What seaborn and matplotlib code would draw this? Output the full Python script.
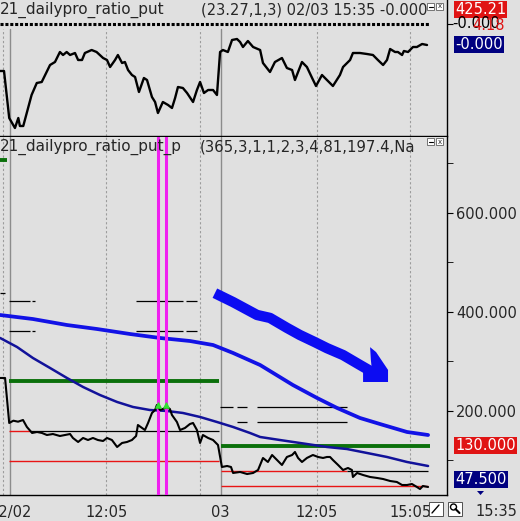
import matplotlib
matplotlib.use('Agg')
import matplotlib.pyplot as plt
import seaborn as sns
from matplotlib.patches import Polygon, Rectangle

# x = 5-minute bar number (bar 0 = 02/02 09:00, bar 81 = 02/03 09:00)
ratio_bar = [-3.8, -2.3, -0.3, 1.9, 3.2, 3.8, 5.1, 8.3, 10.3, 12.2, 15.4, 17.3, 19.2, 20.4, 21.8,
             23.1, 25.0, 26.2, 27.7, 28.8, 31.4, 33.3, 35.8, 37.3, 38.5, 40.4, 41.5, 43.1, 44.2,
             45.4, 46.9, 48.1, 49.6, 51.5, 52.7, 54.6, 55.8, 56.9, 58.8, 60.8, 62.3, 63.5, 64.6,
             66.5, 68.1, 70.4, 71.9, 73.1, 74.6, 76.2, 78.1, 79.6, 80.8, 81.9, 83.8, 85.4, 87.3,
             88.5, 89.6, 91.5, 93.5, 96.2, 97.3, 100.0, 101.9, 104.6, 106.5, 108.5, 109.6, 112.3,
             114.2, 116.2, 117.7, 120.0, 121.9, 124.2, 126.9, 128.1, 130.8, 131.9, 134.6, 137.3,
             139.6, 141.5, 143.5, 145.0, 146.2, 148.1, 149.2, 150.8, 151.5, 153.1, 155.0, 156.5,
             158.5, 160.4]
ratio_val = [65, 65, 18, 8, 18, 10, 10, 41, 53, 54, 71, 74, 84, 81, 84,
             81, 83, 76, 76, 83, 86, 84, 78, 76, 69, 76, 81, 73, 74,
             66, 61, 59, 44, 58, 56, 39, 34, 23, 34, 31, 28, 38, 49,
             48, 43, 34, 46, 54, 43, 46, 46, 41, 84, 86, 84, 96, 97,
             94, 89, 95, 89, 86, 73, 64, 74, 78, 68, 66, 56, 74,
             69, 58, 50, 61, 56, 50, 61, 69, 76, 83, 83, 82,
             81, 76, 71, 76, 87, 84, 84, 81, 85, 84, 89, 89,
             92, 91]
ratio_zero = 112

price_bar = [-3.8, -1.9, -0.3, 1.3, 3.1, 5.0, 6.5, 8.5, 10.4, 12.3, 14.2, 16.5, 19.2, 23.1, 24.2,
             26.2, 28.1, 30.0, 31.9, 33.8, 35.8, 37.3, 39.2, 41.2, 43.1, 45.0, 46.9, 48.5, 49.2,
             50.8, 51.9, 53.1, 54.6, 55.8, 56.5, 57.7, 58.8, 60.4, 61.5, 62.3, 64.2, 65.4, 67.3,
             69.2, 70.4, 71.9, 73.1, 74.2, 76.2, 78.1, 80.0, 81.5, 83.5, 85.0, 85.8, 88.5, 91.2,
             93.5, 95.4, 97.3, 99.2, 100.8, 102.7, 104.6, 106.5, 108.5, 109.6, 110.8, 112.3,
             114.2, 116.5, 118.5, 120.4, 121.9, 123.1, 124.2, 126.2, 128.1, 130.0, 131.5, 131.9,
             133.5, 135.8, 138.5, 141.2, 143.5, 146.2, 148.8, 150.8, 152.7, 154.6, 156.5, 157.7,
             158.8, 160.8]
price_val = [266.7, 266.7, 175.8, 180.4, 178.4, 181.8, 167.7, 155.6, 157.6, 155.6, 151.5, 153.5,
             149.5, 153.5, 145.5, 137.4, 145.5, 141.4, 145.5, 141.4, 139.4, 145.5, 141.4, 127.3,
             135.4, 137.4, 141.4, 149.5, 171.7, 165.7, 161.6, 175.8, 196.0, 202.0, 212.1, 202.0,
             204.0, 208.1, 204.0, 191.9, 177.8, 161.6, 165.7, 173.7, 175.8, 161.6, 135.4, 151.5,
             145.5, 141.4, 131.3, 86.9, 88.9, 86.9, 74.8, 76.8, 72.7, 74.8, 80.8, 105.1, 97.0,
             111.1, 101.0, 90.9, 107.1, 111.1, 117.2, 105.1, 97.0, 105.1, 111.1, 107.1, 105.1,
             107.1, 107.1, 101.0, 90.9, 80.8, 84.9, 80.8, 66.7, 74.8, 70.7, 66.7, 64.7, 62.6,
             58.6, 56.6, 50.5, 50.5, 52.5, 46.5, 42.4, 48.5, 46.5]

ma_upper_bar = [-3.8, 8.8, 21.9, 33.5, 46.2, 57.7, 69.2, 78.1, 85.8, 96.2, 108.8, 118.1, 125.8,
                134.6, 142.3, 152.7, 160.8]
ma_upper_val = [393.9, 385.8, 373.7, 365.6, 355.5, 347.5, 341.4, 333.3, 317.2, 292.9, 252.5,
                226.3, 206.1, 185.9, 173.7, 157.6, 151.5]
ma_lower_bar = [-3.8, 2.7, 8.8, 15.4, 21.9, 28.1, 34.6, 41.2, 47.3, 53.8, 60.4, 66.5, 73.1, 79.6,
                85.8, 92.3, 96.2, 103.8, 111.5, 121.9, 129.6, 137.3, 145.0, 152.7, 160.8]
ma_lower_val = [347.5, 329.3, 307.1, 286.9, 266.7, 248.5, 232.3, 218.2, 208.1, 202.0, 200.0,
                196.0, 187.9, 177.8, 167.7, 155.6, 147.5, 141.4, 135.4, 127.3, 123.2, 115.2,
                107.1, 97.0, 88.9]

green_level = [707.0, 260.6, 130.0]
green_start = [-3.8, -0.4, 81.0]
green_end = [-1.2, 80.4, 161.5]

red_level = [159.6, 99.0, 78.8, 47.5]
red_start = [-0.4, -0.4, 81.0, 81.0]
red_end = [7.7, 80.4, 129.6, 160.8]

black_level = [438.0, 422.0, 422.0, 422.0, 422.0, 361.6, 361.6, 361.6, 361.6,
               159.6, 208.1, 208.1, 208.1, 177.8, 177.8, 78.8]
black_start = [-3.8, -0.4, 8.5, 48.5, 67.7, -0.4, 8.5, 48.5, 67.7,
               7.7, 80.8, 87.3, 95.0, 87.3, 95.0, 129.6]
black_end = [-1.9, 7.7, 9.6, 66.5, 71.9, 7.7, 9.6, 66.5, 71.9,
             80.4, 85.8, 91.2, 129.6, 91.2, 129.6, 160.8]

signal_bar = [57.0, 60.1]
signal_val = [212.0, 213.0]

# hand-drawn arrow (bar, value)
arrow_bar = [78.8, 85.8, 95.0, 100.0, 106.5, 111.5, 117.3, 121.9, 128.1, 134.6, 141.2]
arrow_val = [438, 420, 394, 388, 368, 353.5, 339, 327, 313, 293, 273]
arrow_head = [(138.5, 329), (140.8, 319), (145.4, 283), (145.4, 258.6), (135.8, 258.6),
              (135.8, 279), (139.2, 283), (138.8, 303)]

tick_bar = [-2.7, 0, 37, 73, 81, 118, 154]
tick_label = ['', '02/02', '12:05', '', '03', '12:05', '15:05']
day_start = [0, 81]
y_major = [200, 400, 600]
y_minor = [100, 300, 500, 700]

W, H = 520, 521
BG = '#e0e0e0'

sns.set_style('white', {'axes.facecolor': BG, 'figure.facecolor': BG})
plt.rcParams['font.family'] = ['DejaVu Sans']


def px(x):
    return x / W


def py(y):
    return 1 - y / H


fig = plt.figure(figsize=(W / 100, H / 100), dpi=100)
ax_top = fig.add_axes([0, py(136), px(447), 136 / H])
ax_bot = fig.add_axes([0, py(495), px(447), (495 - 137) / H])

xlim = (-3.846, 168.08)

for ax in (ax_top, ax_bot):
    ax.set_facecolor(BG)
    ax.set_xlim(*xlim)
    for s in ('left', 'top'):
        ax.spines[s].set_visible(False)
    for s in ('right', 'bottom'):
        ax.spines[s].set_color('black')
        ax.spines[s].set_linewidth(1)

# grid: dotted time lines, solid day separators
for ax, ymax in ((ax_top, 0.79), (ax_bot, 1.0)):
    for b in tick_bar:
        if b in day_start:
            ax.axvline(b, ymax=ymax, color='#8c8c8c', lw=1, zorder=1)
        else:
            ax.axvline(b, ymax=ymax, color='#9c9c9c', lw=0.8, ls=(0, (2, 2)), zorder=1)

# ---- top panel ----
ax_top.set_ylim(0, 136)
ax_top.hlines(ratio_zero, -3.8, 161.5, colors='black', lw=2.2, linestyles=(0, (1, 0.6)), zorder=3)
sns.lineplot(x=ratio_bar, y=ratio_val, ax=ax_top, color='black', linewidth=1.7,
             estimator=None, sort=False, legend=False, zorder=4)
ax_top.set_xticks([])
ax_top.yaxis.tick_right()
ax_top.set_yticks([ratio_zero])
ax_top.set_yticklabels([''])
ax_top.tick_params(axis='y', direction='out', length=4, color='black')
ax_top.set_xlabel('')
ax_top.set_ylabel('')

# ---- bottom panel ----
ax_bot.set_ylim(30.3, 753.5)
for lv, s, e in zip(green_level, green_start, green_end):
    ax_bot.hlines(lv, s, e, colors='#0b700b', lw=2.8, zorder=3)
for lv, s, e in zip(red_level, red_start, red_end):
    ax_bot.hlines(lv, s, e, colors='#e81414', lw=1.0, zorder=2)
for lv, s, e in zip(black_level, black_start, black_end):
    ax_bot.hlines(lv, s, e, colors='black', lw=0.9, zorder=2)

sns.lineplot(x=ma_upper_bar, y=ma_upper_val, ax=ax_bot, color='#1212e6', linewidth=2.7,
             estimator=None, sort=False, legend=False, zorder=3)
sns.lineplot(x=ma_lower_bar, y=ma_lower_val, ax=ax_bot, color='#12129a', linewidth=1.8,
             estimator=None, sort=False, legend=False, zorder=3)

for b in signal_bar:
    ax_bot.axvline(b, color='#f020f0', lw=2.2, zorder=4)

sns.lineplot(x=price_bar, y=price_val, ax=ax_bot, color='black', linewidth=1.5,
             estimator=None, sort=False, legend=False, zorder=5)
ax_bot.scatter(signal_bar, signal_val, marker='^', s=14, color='#30e030', zorder=6)

# hand-drawn arrow
ax_bot.plot(arrow_bar, arrow_val, color='#0c0cf2', lw=7.5, solid_capstyle='butt',
            solid_joinstyle='round', zorder=6)
ax_bot.add_patch(Polygon(arrow_head, closed=True, fc='#0c0cf2', ec='none', zorder=6))

ax_bot.yaxis.tick_right()
ax_bot.set_yticks(y_major)
ax_bot.set_yticklabels([f'{v:.3f}' for v in y_major], fontsize=10.5)
ax_bot.set_yticks(y_minor, minor=True)
ax_bot.tick_params(axis='y', which='both', direction='out', length=4, color='black', pad=2.5)
ax_bot.set_xticks(tick_bar)
ax_bot.set_xticklabels(tick_label, fontsize=10.5)
ax_bot.tick_params(axis='x', direction='out', length=4, color='black', pad=3)
ax_bot.set_xlabel('')
ax_bot.set_ylabel('')

# ---- titles ----
fig.text(px(0), py(10), '21_dailypro_ratio_put', fontsize=11, va='center', ha='left')
fig.text(px(201), py(10), '(23.27,1,3) 02/03 15:35 -0.000', fontsize=10.5, va='center', ha='left')
fig.text(px(0), py(147), '21_dailypro_ratio_put_p', fontsize=11, va='center', ha='left')
fig.text(px(200), py(147), '(365,3,1,1,2,3,4,81,197.4,Na', fontsize=10.7, va='center', ha='left')

for ty in (3, 138):
    for tx in (427, 436):
        fig.add_artist(Rectangle((px(tx), py(ty + 7)), 7 / W, 7 / H, transform=fig.transFigure,
                                 fc='white', ec='#606060', lw=0.6))
    fig.add_artist(plt.Line2D([px(428.5), px(432.5)], [py(ty + 3.5)] * 2, color='black', lw=0.8,
                              transform=fig.transFigure))
    fig.text(px(439.5), py(ty + 3.5), 'x', fontsize=5, ha='center', va='center')

# ---- right-side value boxes ----
def value_box(x, y, text, fc):
    fig.text(px(x), py(y), text, fontsize=10.5, color='white', ha='left', va='center',
             bbox=dict(boxstyle='square,pad=0.08', fc=fc, ec='none'))


value_box(455, 9.5, '425.21', '#e01414')
fig.text(px(452), py(24), '-0.000', fontsize=10.5, color='black', ha='left', va='center')
fig.text(px(472), py(25), '4.18', fontsize=10.5, color='#e01414', ha='left', va='center')
value_box(455, 44.5, '-0.000', '#000080')
value_box(455, 445.5, '130.000', '#e01414')
value_box(455, 479.5, '47.500', '#000080')
fig.add_artist(Polygon([(px(477), py(491)), (px(484), py(491)), (px(480.5), py(495))],
                       closed=True, transform=fig.transFigure, fc='#000080', ec='none'))
fig.text(px(475), py(511), '15:35', fontsize=10.5, ha='left', va='center')

# bottom toolbar icons
for tx in (429, 448):
    fig.add_artist(Rectangle((px(tx), py(516)), 14 / W, 14 / H, transform=fig.transFigure,
                             fc='white', ec='#505050', lw=0.7))
fig.add_artist(plt.Line2D([px(432), px(439)], [py(513), py(505)], color='black', lw=1,
                          transform=fig.transFigure))
fig.add_artist(plt.Circle((px(453.5), py(507)), 3 / W, transform=fig.transFigure,
                          fc='none', ec='black', lw=1))
fig.add_artist(plt.Line2D([px(455.5), px(459.5)], [py(509), py(513)], color='black', lw=1.5,
                          transform=fig.transFigure))

fig.savefig('out.png', dpi=100, facecolor=BG)
